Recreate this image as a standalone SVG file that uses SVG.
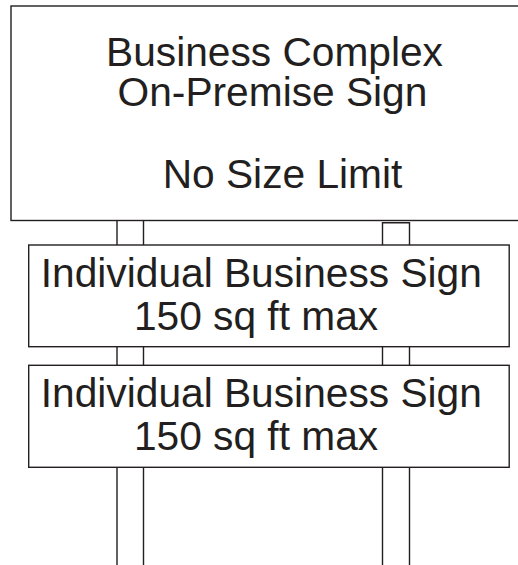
<svg xmlns="http://www.w3.org/2000/svg" width="518" height="565" viewBox="0 0 518 565">
<style>
.box{fill:#fff;stroke:#231f20;stroke-width:1.4}
.post{fill:none;stroke:#231f20;stroke-width:1.4}
.t{font-family:"Liberation Sans",Arial,sans-serif;font-size:40.7px;fill:#231f20;text-anchor:middle}
</style>
<rect width="518" height="565" fill="#fff"/>
<g id="connectors">
<path class="post" d="M117 220V565M143.5 220V565"/>
<path class="post" d="M382.5 565V222.7H409.5V565"/>
</g>
<g id="complex-sign">
<rect class="box" x="11" y="6" width="520" height="214.5"/>
<text class="t" x="274.5" y="66">Business Complex</text>
<text class="t" x="272.5" y="106">On-Premise Sign</text>
<text class="t" x="282.5" y="188.3">No Size Limit</text>
</g>
<g id="business-sign-1">
<rect class="box" x="28.7" y="245" width="480.5" height="101.7"/>
<text class="t" x="261.3" y="287">Individual Business Sign</text>
<text class="t" x="256" y="329.5">150 sq ft max</text>
</g>
<g id="business-sign-2">
<rect class="box" x="28.7" y="365.3" width="480.5" height="102"/>
<text class="t" x="261.3" y="406.5">Individual Business Sign</text>
<text class="t" x="256" y="450">150 sq ft max</text>
</g>
</svg>
